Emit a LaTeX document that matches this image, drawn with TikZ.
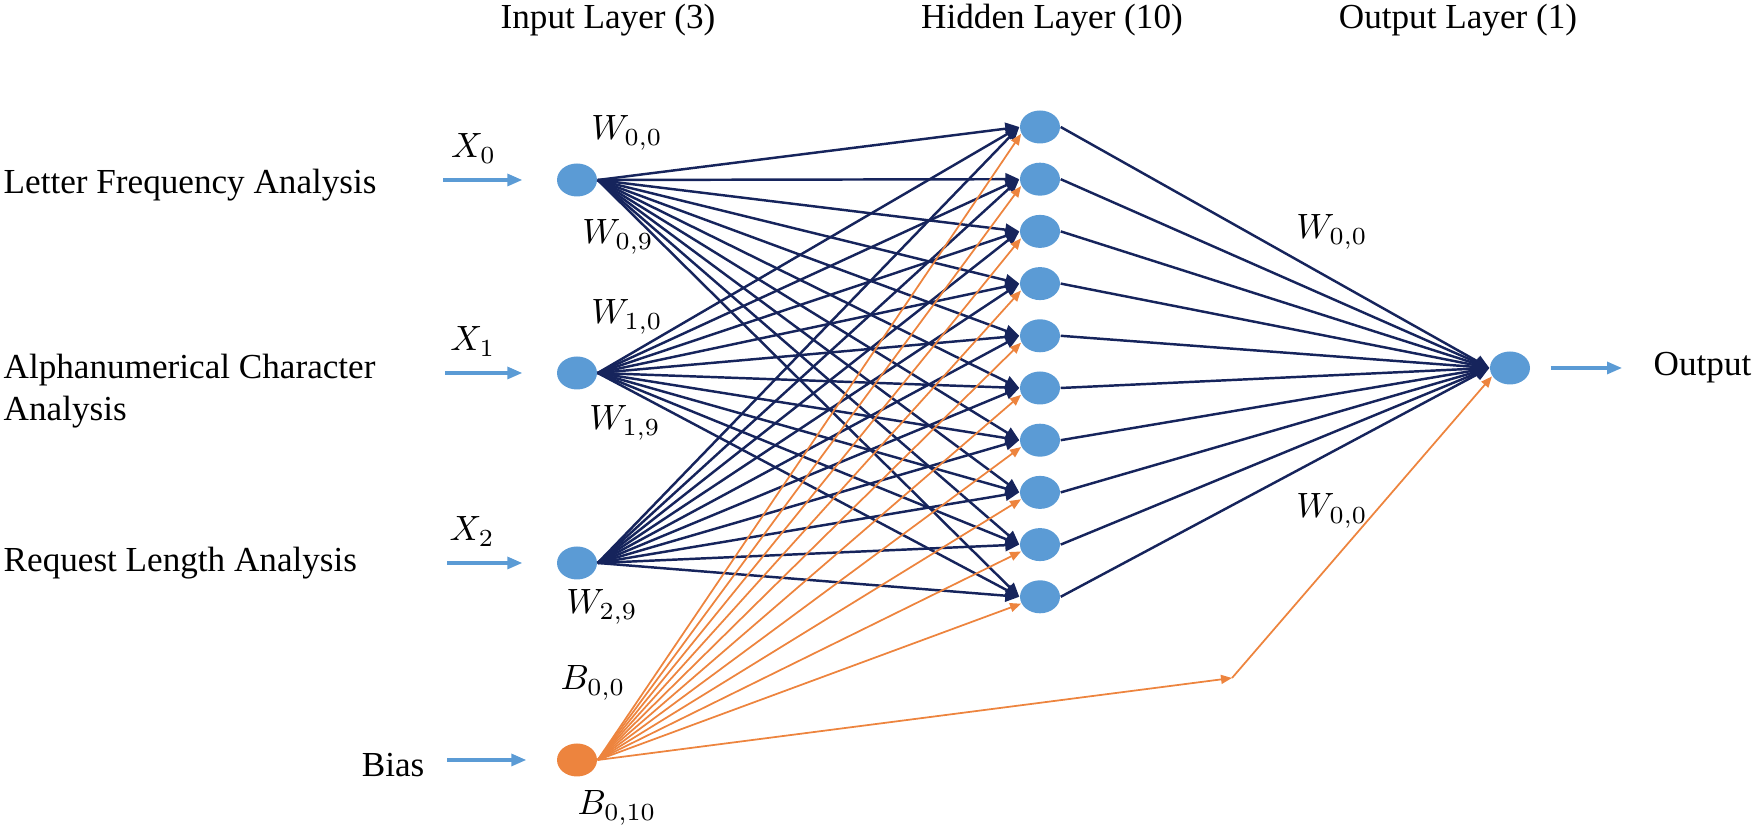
\documentclass[tikz,border=0pt]{standalone}
\usepackage{fontspec}
\setmainfont{Liberation Serif}
\usetikzlibrary{arrows.meta,shapes.geometric}
\definecolor{nodeblue}{RGB}{91,155,213}
\definecolor{navy}{RGB}{22,36,92}
\definecolor{biasorange}{RGB}{237,132,62}
\begin{document}
\begin{tikzpicture}
	\tikzstyle{neuron}=[ellipse, fill=nodeblue, minimum width=4mm, minimum height=3.3mm, inner sep=0pt]
	\tikzstyle{feed}=[-{Triangle[length=1.5mm, width=1.2mm]}, nodeblue, line width=0.9pt]
	\tikzstyle{weight}=[-{Triangle[length=1.4mm, width=1.2mm]}, navy, line width=0.7pt]
	\tikzstyle{biasw}=[-{Triangle[length=1.1mm, width=0.9mm]}, biasorange, line width=0.5pt]
	\tikzstyle{feature}=[anchor=west, align=left, inner sep=0pt]
	\useasboundingbox (0,0) rectangle (17.55,8.29);
	\draw node at (6.08, 8.09) (tin) {Input Layer (3)};
	\draw node at (10.52, 8.09) (thid) {Hidden Layer (10)};
	\draw node at (14.58, 8.09) (tout) {Output Layer (1)};

	\draw node[feature] at (0.03, 6.44) (f0) {Letter Frequency Analysis};
	\draw node[feature] at (0.03, 4.38) (f1) {Alphanumerical Character\\Analysis};
	\draw node[feature] at (0.03, 2.66) (f2) {Request Length Analysis};
	\draw node[anchor=east, inner sep=0pt] at (4.25, 0.64) (fb) {Bias};

	\draw node[neuron] at (5.77, 6.49) (in0) {};
	\draw node[neuron] at (5.77, 4.56) (in1) {};
	\draw node[neuron] at (5.77, 2.66) (in2) {};
	\draw node[neuron, fill=biasorange] at (5.77, 0.69) (bias) {};
	\foreach \i in {0,...,9}
		\draw node[neuron] at (10.40, {7.02-0.522*\i}) (h\i) {};
	\draw node[neuron] at (15.10, 4.61) (out) {};

	\coordinate (s0) at (4.43, 6.49);
	\coordinate (s1) at (4.45, 4.56);
	\coordinate (s2) at (4.47, 2.66);
	\coordinate (sb) at (4.47, 0.69);
	\draw [feed, shorten >=3.4mm] (s0) -- (in0) node[pos=.27, above, yshift=1pt, text=black] {$X_0$};
	\draw [feed, shorten >=3.4mm] (s1) -- (in1) node[pos=.25, above, yshift=1pt, text=black] {$X_1$};
	\draw [feed, shorten >=3.4mm] (s2) -- (in2) node[pos=.23, above, yshift=1pt, text=black] {$X_2$};
	\draw [feed, shorten >=3.0mm] (sb) -- (bias);

	\foreach \j in {0,1,2}
		\foreach \i in {0,...,9}
			\draw [weight] (in\j.east) -- (h\i.west);
	\foreach \i in {0,...,9}
		\draw [biasw] (bias.east) -- (h\i.200);
	\foreach \i in {0,...,9}
		\draw [weight] (h\i.east) -- (out.west);
	\coordinate (bend) at (12.32, 1.51);
	\draw [biasw] (bias.east) -- (bend);
	\draw [biasw] (bend) -- (out.205);

	\coordinate (oend) at (16.22, 4.61);
	\draw [feed, shorten <=2mm] (out) -- (oend);
	\draw node[anchor=west, inner sep=0pt] at (16.53, 4.61) (otext) {Output};

	\draw node at (6.27, 6.96) (w00) {$W_{0,0}$};
	\draw node at (6.18, 5.92) (w09) {$W_{0,9}$};
	\draw node at (6.27, 5.12) (w10) {$W_{1,0}$};
	\draw node at (6.25, 4.06) (w19) {$W_{1,9}$};
	\draw node at (6.02, 2.22) (w29) {$W_{2,9}$};
	\draw node at (5.93, 1.46) (b00) {$B_{0,0}$};
	\draw node at (6.17, 0.21) (b010) {$B_{0,10}$};
	\draw node at (13.32, 5.97) (v0) {$W_{0,0}$};
	\draw node at (13.32, 3.18) (v9) {$W_{0,0}$};
\end{tikzpicture}
\end{document}
